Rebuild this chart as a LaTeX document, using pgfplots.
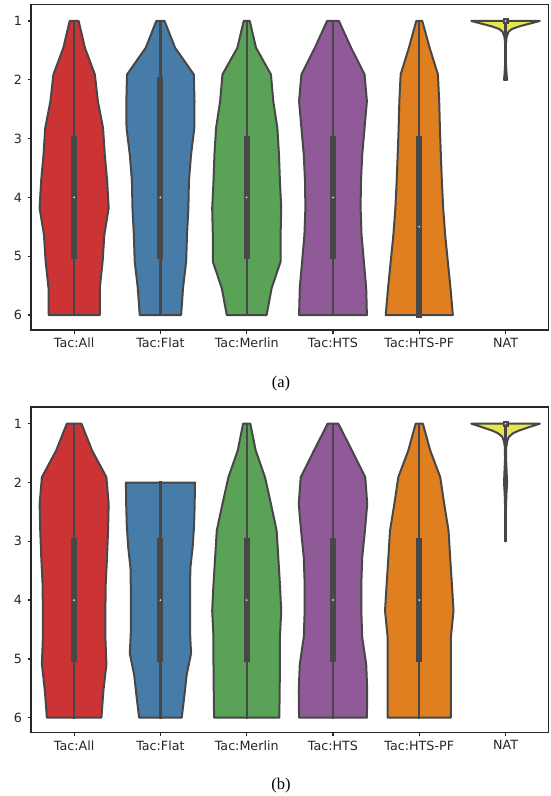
\documentclass[border=0pt]{standalone}
\usepackage{pgfplots}
\pgfplotsset{compat=1.18}
\usepackage{pgfplotstable}
\usepackage{fontspec}
\setmainfont{Liberation Serif}
\newfontfamily\ticksans{DejaVu Sans}

% Set1 palette, desaturated
\definecolor{vred}{HTML}{CB3335}
\definecolor{vblue}{HTML}{477CA8}
\definecolor{vgreen}{HTML}{59A257}
\definecolor{vpurple}{HTML}{905998}
\definecolor{vorange}{HTML}{DF7F20}
\definecolor{vyellow}{HTML}{E6E64D}
\definecolor{vgray}{HTML}{474747}
\definecolor{axgray}{HTML}{262626}

% Violin outlines: rank r, signed half-width dx (right side down, left side up)
% ---- panel (a)
\pgfplotstableread[row sep=\\]{r dx\\
1 0.052\\1.455 0.125\\1.909 0.24\\2.364 0.275\\2.818 0.335\\3.273 0.355\\3.727 0.383\\4.182 0.40\\4.636 0.35\\5.091 0.33\\5.545 0.297\\6 0.297\\
6 -0.297\\5.545 -0.297\\5.091 -0.33\\4.636 -0.35\\4.182 -0.40\\3.727 -0.383\\3.273 -0.355\\2.818 -0.335\\2.364 -0.275\\1.909 -0.24\\1.455 -0.125\\1 -0.052\\
}\vAall
\pgfplotstableread[row sep=\\]{r dx\\
1 0.048\\1.455 0.17\\1.909 0.387\\2.364 0.395\\2.818 0.393\\3.273 0.355\\3.727 0.33\\4.182 0.324\\4.636 0.308\\5.091 0.298\\5.545 0.262\\6 0.24\\
6 -0.24\\5.545 -0.262\\5.091 -0.298\\4.636 -0.308\\4.182 -0.324\\3.727 -0.33\\3.273 -0.355\\2.818 -0.393\\2.364 -0.395\\1.909 -0.387\\1.455 -0.17\\1 -0.048\\
}\vAflat
\pgfplotstableread[row sep=\\]{r dx\\
1 0.035\\1.455 0.108\\1.909 0.281\\2.364 0.308\\2.818 0.355\\3.273 0.374\\3.727 0.385\\4.182 0.40\\4.636 0.393\\5.091 0.393\\5.545 0.289\\6 0.231\\
6 -0.231\\5.545 -0.289\\5.091 -0.393\\4.636 -0.393\\4.182 -0.40\\3.727 -0.385\\3.273 -0.374\\2.818 -0.355\\2.364 -0.308\\1.909 -0.281\\1.455 -0.108\\1 -0.035\\
}\vAmerlin
\pgfplotstableread[row sep=\\]{r dx\\
1 0.069\\1.455 0.21\\1.909 0.366\\2.364 0.393\\2.818 0.366\\3.273 0.339\\3.727 0.324\\4.182 0.32\\4.636 0.331\\5.091 0.358\\5.545 0.385\\6 0.393\\
6 -0.393\\5.545 -0.385\\5.091 -0.358\\4.636 -0.331\\4.182 -0.32\\3.727 -0.324\\3.273 -0.339\\2.818 -0.366\\2.364 -0.393\\1.909 -0.366\\1.455 -0.21\\1 -0.069\\
}\vAhts
\pgfplotstableread[row sep=\\]{r dx\\
1 0.035\\1.455 0.12\\1.909 0.216\\2.364 0.231\\2.818 0.239\\3.273 0.25\\3.727 0.262\\4.182 0.277\\4.636 0.30\\5.091 0.331\\5.545 0.362\\6 0.389\\
6 -0.389\\5.545 -0.362\\5.091 -0.331\\4.636 -0.30\\4.182 -0.277\\3.727 -0.262\\3.273 -0.25\\2.818 -0.239\\2.364 -0.231\\1.909 -0.216\\1.455 -0.12\\1 -0.035\\
}\vApf
\pgfplotstableread[row sep=\\]{r dx\\
1 0.397\\1.045 0.28\\1.091 0.16\\1.136 0.075\\1.182 0.035\\1.273 0.012\\1.4 0.004\\1.7 0.004\\1.909 0.012\\2 0.018\\
2 -0.018\\1.909 -0.012\\1.7 -0.004\\1.4 -0.004\\1.273 -0.012\\1.182 -0.035\\1.136 -0.075\\1.091 -0.16\\1.045 -0.28\\1 -0.397\\
}\vAnat
% ---- panel (b)
\pgfplotstableread[row sep=\\]{r dx\\
1 0.085\\1.455 0.208\\1.909 0.374\\2.364 0.40\\2.818 0.393\\3.273 0.381\\3.727 0.366\\4.182 0.362\\4.636 0.362\\5.091 0.374\\5.545 0.339\\6 0.316\\
6 -0.316\\5.545 -0.339\\5.091 -0.374\\4.636 -0.362\\4.182 -0.362\\3.727 -0.366\\3.273 -0.381\\2.818 -0.393\\2.364 -0.40\\1.909 -0.374\\1.455 -0.208\\1 -0.085\\
}\vBall
\pgfplotstableread[row sep=\\]{r dx\\
2 0.40\\2.364 0.397\\2.727 0.39\\3.091 0.374\\3.455 0.347\\3.818 0.343\\4.182 0.343\\4.545 0.343\\4.909 0.355\\5.273 0.304\\5.636 0.277\\6 0.247\\
6 -0.247\\5.636 -0.277\\5.273 -0.304\\4.909 -0.355\\4.545 -0.343\\4.182 -0.343\\3.818 -0.343\\3.455 -0.347\\3.091 -0.374\\2.727 -0.39\\2.364 -0.397\\2 -0.40\\
}\vBflat
\pgfplotstableread[row sep=\\]{r dx\\
1 0.042\\1.455 0.104\\1.909 0.212\\2.364 0.281\\2.818 0.347\\3.273 0.366\\3.727 0.385\\4.182 0.40\\4.636 0.385\\5.091 0.385\\5.545 0.382\\6 0.378\\
6 -0.378\\5.545 -0.382\\5.091 -0.385\\4.636 -0.385\\4.182 -0.40\\3.727 -0.385\\3.273 -0.366\\2.818 -0.347\\2.364 -0.281\\1.909 -0.212\\1.455 -0.104\\1 -0.042\\
}\vBmerlin
\pgfplotstableread[row sep=\\]{r dx\\
1 0.062\\1.455 0.22\\1.909 0.374\\2.364 0.397\\2.818 0.37\\3.273 0.339\\3.727 0.328\\4.182 0.328\\4.636 0.339\\5.091 0.385\\5.545 0.397\\6 0.393\\
6 -0.393\\5.545 -0.397\\5.091 -0.385\\4.636 -0.339\\4.182 -0.328\\3.727 -0.328\\3.273 -0.339\\2.818 -0.37\\2.364 -0.397\\1.909 -0.374\\1.455 -0.22\\1 -0.062\\
}\vBhts
\pgfplotstableread[row sep=\\]{r dx\\
1 0.042\\1.455 0.127\\1.909 0.243\\2.364 0.289\\2.818 0.339\\3.273 0.358\\3.727 0.378\\4.182 0.397\\4.636 0.366\\5.091 0.366\\5.545 0.366\\6 0.366\\
6 -0.366\\5.545 -0.366\\5.091 -0.366\\4.636 -0.366\\4.182 -0.397\\3.727 -0.378\\3.273 -0.358\\2.818 -0.339\\2.364 -0.289\\1.909 -0.243\\1.455 -0.127\\1 -0.042\\
}\vBpf
\pgfplotstableread[row sep=\\]{r dx\\
1 0.397\\1.04 0.31\\1.08 0.23\\1.12 0.15\\1.16 0.09\\1.22 0.04\\1.3 0.018\\1.4 0.008\\1.6 0.006\\1.8 0.012\\2 0.018\\2.2 0.01\\2.5 0.004\\3 0.002\\
3 -0.002\\2.5 -0.004\\2.2 -0.01\\2 -0.018\\1.8 -0.012\\1.6 -0.006\\1.4 -0.008\\1.3 -0.018\\1.22 -0.04\\1.16 -0.09\\1.12 -0.15\\1.08 -0.23\\1.04 -0.31\\1 -0.397\\
}\vBnat

% #1 position, #2 fill colour, #3 outline table
\newcommand{\violin}[3]{%
  \addplot[fill=#2, draw=vgray, line width=2pt, line join=round]
    table[x expr={#1+\thisrow{dx}}, y=r] {#3} -- cycle;}
% #1 position, #2 lower whisker, #3 Q1, #4 Q3, #5 upper whisker, #6 median
\newcommand{\innerbox}[6]{%
  \addplot[vgray, line width=2.2pt, line cap=rect] coordinates {(#1,#2) (#1,#5)};
  \addplot[vgray, line width=6pt, line cap=rect] coordinates {(#1,#3) (#1,#4)};
  \addplot[only marks, mark=*, mark size=1.7pt,
    mark options={fill=white, draw=vgray, line width=0.8pt}] coordinates {(#1,#6)};}

\pgfplotsset{violinaxis/.style={
  scale only axis, width=517.7pt, height=325.7pt,
  xmin=-0.5, xmax=5.5, ymin=0.716, ymax=6.255, y dir=reverse,
  xtick={0,...,5},
  xticklabels={Tac:All,Tac:Flat,Tac:Merlin,Tac:HTS,Tac:HTS-PF,NAT},
  ytick={1,...,6},
  tick align=outside, tick pos=left, major tick length=3.5pt,
  axis line style={draw=axgray, line width=1.25pt},
  every tick/.style={draw=axgray, line width=1.25pt},
  /pgf/number format/assume math mode=true,
  ticklabel style={font=\ticksans\fontsize{12.7}{15}\selectfont, text=axgray},
  yticklabel style={xshift=-2pt},
  xticklabel style={yshift=-1pt},
}}

\begin{document}
\begin{tikzpicture}
\useasboundingbox (0,0) rectangle (550pt,796pt);

% ---------- (a)
\begin{axis}[violinaxis, at={(31pt,466pt)}, anchor=south west]
  \violin{0}{vred}{\vAall}
  \innerbox{0}{1}{3}{5}{6}{4}
  \violin{1}{vblue}{\vAflat}
  \innerbox{1}{1}{2}{5}{6}{4}
  \violin{2}{vgreen}{\vAmerlin}
  \innerbox{2}{1}{3}{5}{6}{4}
  \violin{3}{vpurple}{\vAhts}
  \innerbox{3}{1}{3}{5}{6}{4}
  \violin{4}{vorange}{\vApf}
  \innerbox{4}{1}{3}{6}{6}{4.5}
  \violin{5}{vyellow}{\vAnat}
  \innerbox{5}{1}{1}{1.001}{2}{1}
\end{axis}
\node[anchor=base, font=\fontsize{16.5}{18}\selectfont] at (281pt,408pt) {(a)};

% ---------- (b)
\begin{axis}[violinaxis, at={(31pt,63.3pt)}, anchor=south west]
  \violin{0}{vred}{\vBall}
  \innerbox{0}{1}{3}{5}{6}{4}
  \violin{1}{vblue}{\vBflat}
  \innerbox{1}{2}{3}{5}{6}{4}
  \violin{2}{vgreen}{\vBmerlin}
  \innerbox{2}{1}{3}{5}{6}{4}
  \violin{3}{vpurple}{\vBhts}
  \innerbox{3}{1}{3}{5}{6}{4}
  \violin{4}{vorange}{\vBpf}
  \innerbox{4}{1}{3}{5}{6}{4}
  \violin{5}{vyellow}{\vBnat}
  \innerbox{5}{1}{1}{1.001}{3}{1}
\end{axis}
\node[anchor=base, font=\fontsize{16.5}{18}\selectfont] at (281pt,6pt) {(b)};
\end{tikzpicture}
\end{document}
